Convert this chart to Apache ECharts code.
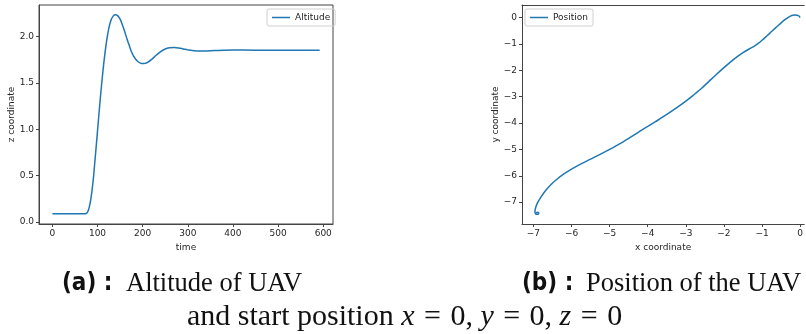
<!DOCTYPE html>
<html>
<head>
<meta charset="utf-8">
<script src="https://cdn.jsdelivr.net/npm/echarts@6/dist/echarts.min.js"></script>
<style>
  html, body { margin: 0; padding: 0; background: #fff; }
  #chart { width: 806px; height: 334px; }
</style>
</head>
<body>
<div id="chart"></div>
<script>
// altitude over time (left panel)
const timeVals = [0, 20, 40, 60, 70, 75, 80, 85, 90, 95, 100, 105, 110, 115, 120, 125, 130, 135, 140,
    145, 150, 155, 160, 165, 170, 175, 180, 185, 190, 195, 200, 205, 210, 220, 230, 240, 250, 260,
    270, 280, 290, 300, 310, 320, 330, 340, 360, 380, 400, 450, 500, 550, 592]
const altitudeVals = [0.088, 0.088, 0.088, 0.088, 0.088, 0.09, 0.13, 0.24, 0.43, 0.70, 0.98, 1.27, 1.53,
    1.76, 1.95, 2.09, 2.18, 2.225, 2.237, 2.225, 2.19, 2.13, 2.06, 1.98, 1.91, 1.84, 1.79, 1.755,
    1.73, 1.715, 1.71, 1.712, 1.72, 1.755, 1.80, 1.84, 1.868, 1.88, 1.883, 1.878, 1.868, 1.858,
    1.85, 1.846, 1.845, 1.846, 1.85, 1.854, 1.856, 1.855, 1.853, 1.853, 1.853]

// x/y path (right panel)
const posX = [0, -0.03, -0.08, -0.15, -0.22, -0.3, -0.4, -0.5, -0.6, -0.7, -0.8, -0.9, -1.0, -1.1, -1.2,
    -1.35, -1.5, -1.65, -1.8, -2.0, -2.2, -2.4, -2.6, -2.8, -3.0, -3.2, -3.4, -3.6, -3.8, -4.0, -4.25,
    -4.5, -4.75, -5.0, -5.25, -5.5, -5.75, -6.0, -6.2, -6.4, -6.55, -6.7, -6.82, -6.9, -6.95, -6.96,
    -6.93, -6.88, -6.86, -6.89, -6.93]
const posY = [0, 0.06, 0.09, 0.1, 0.08, 0.02, -0.08, -0.2, -0.33, -0.46, -0.6, -0.73, -0.86, -0.98, -1.08,
    -1.2, -1.33, -1.48, -1.65, -1.9, -2.16, -2.43, -2.7, -2.94, -3.17, -3.38, -3.58, -3.77, -3.95, -4.13,
    -4.35, -4.58, -4.8, -5.0, -5.19, -5.37, -5.55, -5.75, -5.93, -6.15, -6.35, -6.6, -6.85, -7.05, -7.25,
    -7.38, -7.46, -7.46, -7.41, -7.38, -7.41]

// tick labels
const timeTicks = [0, 100, 200, 300, 400, 500, 600]
const altTicks = [0, 0.5, 1.0, 1.5, 2.0]
const posXTicks = [-7, -6, -5, -4, -3, -2, -1, 0]
const posYTicks = [-7, -6, -5, -4, -3, -2, -1, 0]

const lineColor = '#1f77b4'
const txtColor = '#262626'
const spineColor = '#444'
const tickFont = 'DejaVu Sans'

const fmtDec = v => v.toFixed(1)
const fmtInt = v => (v < 0 ? '\u2212' + Math.abs(v) : String(v))

function axisBase(ticks, fmt, name, nameGap, rotate) {
    return {
        type: 'value',
        name: name,
        nameLocation: 'middle',
        nameGap: nameGap,
        nameRotate: rotate,
        nameTextStyle: { color: txtColor, fontSize: 9, fontFamily: tickFont },
        splitLine: { show: false },
        axisLine: { show: true, onZero: false, lineStyle: { color: spineColor, width: 1 } },
        axisTick: { show: true, inside: false, length: 3, customValues: ticks,
            lineStyle: { color: spineColor } },
        axisLabel: { customValues: ticks, formatter: fmt, color: txtColor, fontSize: 9,
            fontFamily: tickFont, margin: 5, showMinLabel: true, showMaxLabel: true },
    }
}

const legendCommon = {
    orient: 'vertical',
    icon: 'rect',
    itemWidth: 18,
    itemHeight: 1.5,
    itemGap: 4,
    padding: [4, 5, 4, 5],
    borderColor: '#d0d0d0',
    borderWidth: 1,
    borderRadius: 2,
    textStyle: { color: txtColor, fontSize: 9, fontFamily: tickFont },
}

const boldCap = { fontFamily: 'DejaVu Sans Condensed', fontWeight: 'bold', fontSize: 24, fill: '#111' }
const serifCap = { fontFamily: 'Liberation Serif', fontSize: 26.5, fill: '#111' }
const serif2 = { fontFamily: 'Liberation Serif', fontSize: 30, fill: '#111' }
const ital2 = { fontFamily: 'Liberation Serif', fontStyle: 'italic', fontSize: 30, fill: '#111' }
const eq2 = { fontFamily: 'Liberation Serif', fontSize: 30, fill: '#111', padding: [0, 2, 0, 2] }

const myChart = echarts.init(document.getElementById('chart'), null, { renderer: 'canvas' })

const option = {
    backgroundColor: '#ffffff',
    animation: false,
    grid: [
        { left: 39, top: 5, width: 294, height: 219, show: true, borderColor: spineColor, borderWidth: 1,
          containLabel: false },
        { left: 522, top: 5, width: 284, height: 219, show: false, containLabel: false },
    ],
    legend: [
        Object.assign({ data: ['Altitude'], left: 267, top: 9 }, legendCommon),
        Object.assign({ data: ['Position'], left: 525, top: 9 }, legendCommon),
    ],
    xAxis: [
        Object.assign(axisBase(timeTicks, v => String(v), 'time', 14, 0),
            { gridIndex: 0, min: -29.6, max: 621.6 }),
        Object.assign(axisBase(posXTicks, fmtInt, 'x coordinate', 14, 0),
            { gridIndex: 1, min: -7.3, max: 0.107 }),
        // top spine of the right panel (its right edge is cut off)
        {
            type: 'value', gridIndex: 1, position: 'top', min: -7.3, max: 0.107,
            axisLine: { show: true, onZero: false, lineStyle: { color: spineColor, width: 1 } },
            axisTick: { show: false }, axisLabel: { show: false }, splitLine: { show: false },
        },
    ],
    yAxis: [
        Object.assign(axisBase(altTicks, fmtDec, 'z coordinate', 21, 90),
            { gridIndex: 0, min: -0.0225, max: 2.3425 }),
        Object.assign(axisBase(posYTicks, fmtInt, 'y coordinate', 20, 90),
            { gridIndex: 1, min: -7.83, max: 0.478 }),
    ],
    series: [
        {
            name: 'Altitude',
            type: 'line',
            xAxisIndex: 0,
            yAxisIndex: 0,
            data: timeVals.map((t, i) => [t, altitudeVals[i]]),
            showSymbol: false,
            symbol: 'none',
            smooth: 0.4,
            lineStyle: { color: lineColor, width: 1.5 },
            itemStyle: { color: lineColor },
        },
        {
            name: 'Position',
            type: 'line',
            xAxisIndex: 1,
            yAxisIndex: 1,
            data: posX.map((x, i) => [x, posY[i]]),
            showSymbol: false,
            symbol: 'none',
            smooth: 0.3,
            lineStyle: { color: lineColor, width: 1.5 },
            itemStyle: { color: lineColor },
        },
    ],
    graphic: [
        { type: 'text', left: 62, top: 272, style: { text: '{b|(a) :}', rich: { b: boldCap } } },
        { type: 'text', left: 126, top: 271, style: { text: '{r|Altitude of UAV}', rich: { r: serifCap } } },
        { type: 'text', left: 522, top: 272, style: { text: '{b|(b) :}', rich: { b: boldCap } } },
        { type: 'text', left: 586, top: 271, style: { text: '{r|Position of the UAV}', rich: { r: serifCap } } },
        {
            type: 'text', left: 187, top: 302,
            style: {
                text: '{r|and start position }{i|x}{e| = }{r|0, }{i|y}{e| = }{r|0, }{i|z}{e| = }{r|0}',
                rich: { r: serif2, i: ital2, e: eq2 },
            },
        },
    ],
}

myChart.setOption(option)
</script>
</body>
</html>
